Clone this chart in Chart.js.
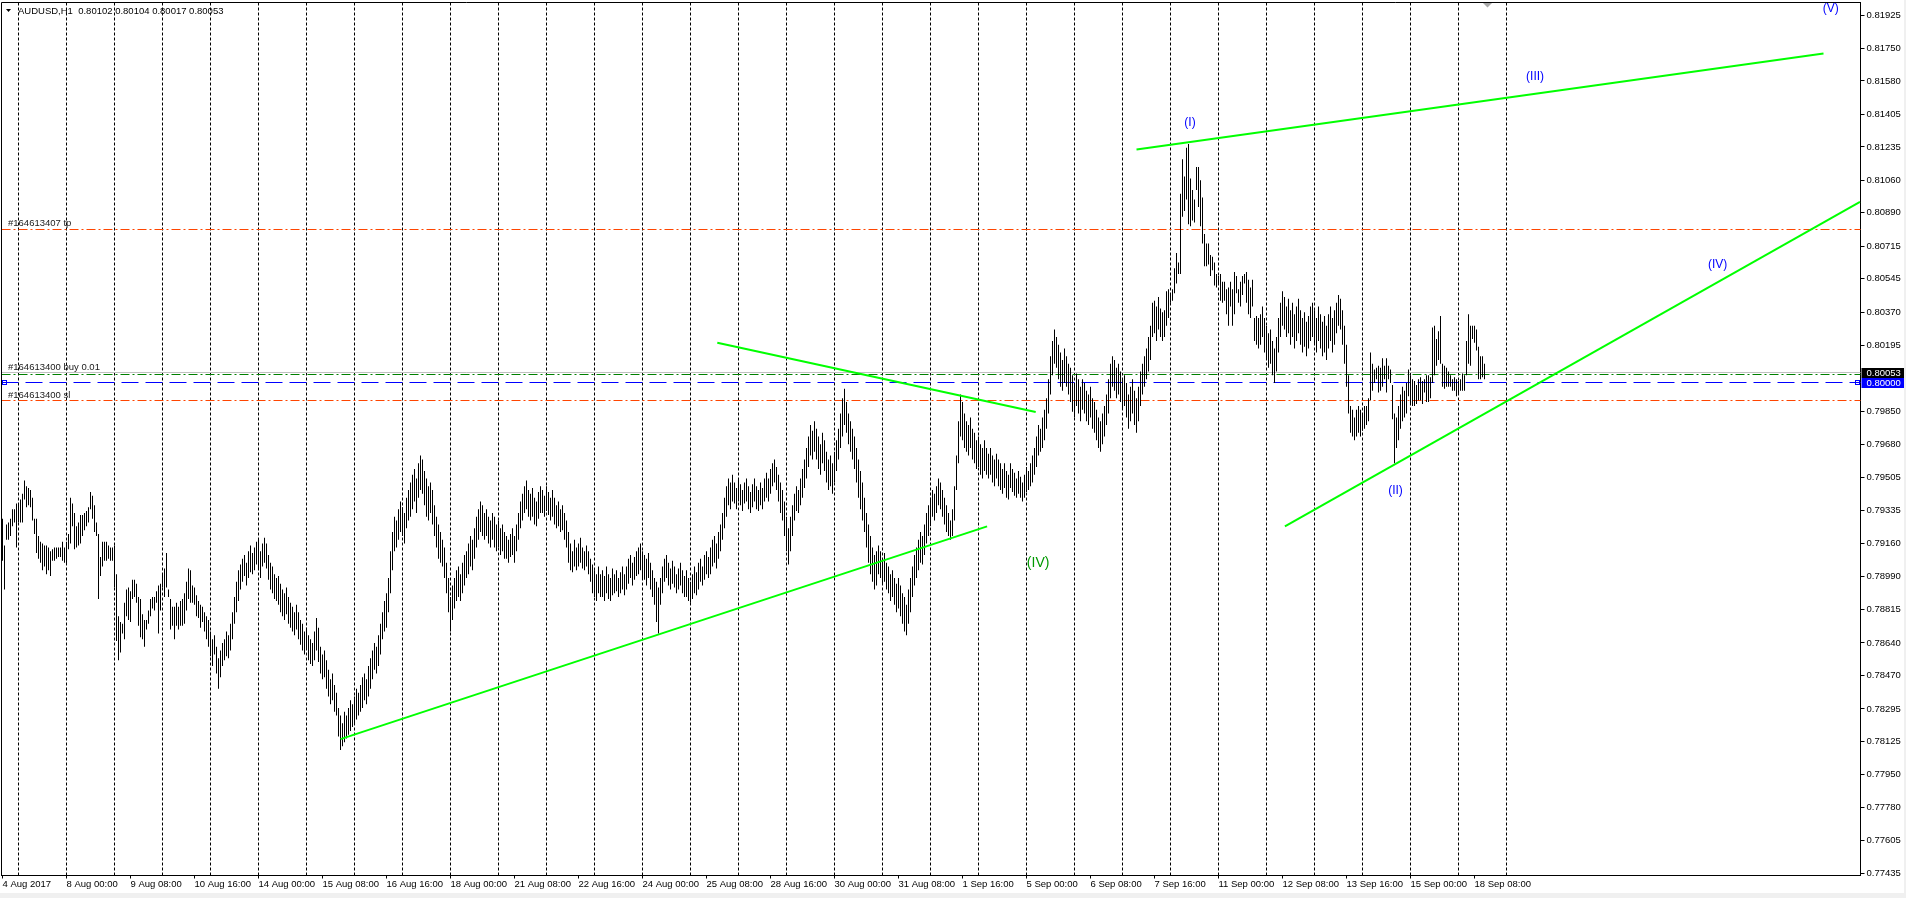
<!DOCTYPE html>
<html>
<head>
<meta charset="utf-8">
<script src="https://cdn.jsdelivr.net/npm/chart.js@4.4.1/dist/chart.umd.min.js"></script>
<style>
  html, body { margin: 0; padding: 0; background: #f0f0f0; overflow: hidden; }
  #chart { position: absolute; left: 0; top: 0; background: #fff; }
</style>
</head>
<body>
<canvas id="chart" width="1904" height="893"></canvas>
<script>
// AUDUSD H1, one bar per hour from 4 Aug 2017 16:00, values in pips (0.0001)
const highPips = [
  7929,7915,7926,7927,7929,7934,7934,7937,7937,7939,7942,7949,7946,7945,7944,7940,7929,7929,7920,7917,
  7916,7915,7915,7914,7912,7913,7914,7914,7914,7914,7917,7914,7917,7921,7940,7937,7932,7925,7927,7931,
  7931,7932,7933,7935,7943,7941,7936,7927,7921,7909,7917,7917,7917,7915,7914,7914,7915,7900,7878,7875,
  7874,7885,7892,7893,7891,7897,7897,7895,7888,7887,7879,7876,7876,7881,7887,7888,7888,7891,7894,7895,
  7900,7903,7911,7892,7887,7883,7883,7885,7883,7886,7887,7890,7896,7903,7902,7894,
  7893,7889,7886,7884,7883,7880,7878,7876,7870,7866,7868,7862,7856,7860,7864,7866,7870,7868,7874,7880,
  7888,7896,7902,7905,7908,7910,7906,7912,7915,7911,7914,7917,7918,7912,7916,7919,7916,7910,7906,7904,
  7900,7898,7899,7895,7892,7890,7893,7888,7885,7883,7880,7884,7880,7876,7874,7870,7872,7868,7866,7864,
  7870,7877,7872,7862,7858,7860,7855,7850,7845,7848,7842,7838,7830,7826,7822,7828,7826,7830,7834,7832,
  7836,7840,7838,7842,7846,7848,7845,7852,7856,7860,7864,7862,7868,7874,7880,7886,7890,7898,7912,7922,
  7930,7928,7934,7938,7935,7932,7940,7944,7948,7952,7955,7950,7958,7962,7960,7954,7950,7946,7948,7944,
  7936,7930,7926,7922,7918,7914,7906,7898,7888,7894,7898,7902,7904,7900,7906,7910,7912,7916,7920,7918,
  7924,7930,7934,7938,7936,7932,7934,7930,7928,7932,7930,7926,7928,7924,7926,7922,7920,7918,7921,7924,
  7920,7926,7932,7938,7942,7946,7949,7944,7942,7945,7940,7938,7943,7946,7944,7941,7946,7943,7940,7944,
  7940,7936,7938,7934,7936,7932,7928,7922,7916,7912,7918,7914,7916,7919,7914,7912,7915,7912,7908,7905,
  7902,7900,7904,7900,7902,7899,7904,7900,7898,7903,7900,7902,7898,7901,7904,7900,7904,7908,7910,7906,
  7909,7912,7914,7916,7912,7910,7908,7911,7906,7902,7898,7896,7893,7898,7904,7908,7910,7906,7903,7907,
  7904,7900,7903,7906,7902,7899,7902,7898,7896,7900,7904,7901,7906,7908,7904,7910,7912,7909,7914,7918,
  7920,7916,7922,7926,7932,7940,7946,7950,7948,7952,7948,7945,7950,7947,7944,7948,7950,7946,7943,7947,
  7950,7946,7944,7948,7945,7950,7953,7950,7955,7958,7960,7956,7952,7948,7944,7938,7930,7924,7930,7936,
  7942,7946,7944,7950,7955,7960,7966,7972,7978,7975,7980,7976,7972,7968,7974,7970,7964,7960,7962,7958,
  7964,7970,7976,7984,7992,7997,7990,7984,7980,7976,7972,7966,7960,7954,7948,7940,7932,7926,7920,7914,
  7910,7912,7915,7912,7908,7911,7906,7904,7900,7902,7898,7895,7898,7894,7890,7888,7884,7892,7898,7904,
  7910,7914,7918,7922,7920,7926,7932,7936,7940,7944,7942,7946,7950,7948,7944,7940,7936,7932,7928,7934,
  7946,7962,7980,7994,7990,7984,7980,7978,7982,7976,7974,7970,7972,7968,7966,7970,7966,7963,7966,7962,
  7960,7963,7960,7958,7955,7958,7954,7952,7958,7955,7953,7950,7954,7951,7948,7952,7956,7954,7958,7962,
  7966,7972,7978,7976,7982,7986,7992,8002,8014,8022,8028,8024,8020,8016,8012,8018,8014,8010,8008,8004,
  8000,8005,8002,7998,8002,8000,7996,7994,7998,7992,7990,7986,7982,7980,7984,7988,7994,8002,8010,8014,
  8012,8008,8010,8006,8002,8004,8000,7994,7998,8002,7996,7992,7998,8006,8010,8014,8018,8024,8030,8042,
  8043,8040,8045,8039,8037,8038,8048,8049,8047,8049,8060,8068,8063,8099,8117,8108,8123,8125,8107,8101,
  8096,8113,8113,8106,8097,8078,8073,8073,8067,8066,8063,8057,8056,8057,8053,8053,8049,8050,8053,8049,
  8058,8056,8049,8053,8056,8057,8058,8054,8050,8054,8034,8035,8034,8036,8040,8034,8030,8026,8028,8022,
  8018,8024,8034,8042,8048,8045,8040,8044,8038,8042,8036,8040,8044,8038,8034,8037,8032,8035,8040,8042,
  8038,8034,8040,8036,8032,8035,8030,8036,8040,8034,8038,8042,8046,8044,8038,8030,8020,8004,7988,7986,
  7982,7986,7988,7986,7984,7988,7988,7992,8016,8010,8007,8008,8009,8008,8013,8009,8013,8009,8007,7999,
  7984,7982,7988,7994,7998,7996,8000,8007,8004,8002,8001,7999,8002,8003,8001,8002,8004,8004,8003,8029,
  8030,8023,8027,8035,8010,8009,8008,8006,8004,8002,8003,8002,8001,8002,8005,8004,8022,8036,8030,8030,
  8030,8028,8019,8014,8014,8010
];
const lowPips = [
  7907,7892,7918,7918,7920,7925,7927,7914,7927,7927,7927,7939,7935,7936,7935,7928,7921,7911,7908,7906,
  7902,7904,7900,7902,7899,7907,7907,7908,7909,7909,7907,7906,7905,7913,7916,7925,7913,7914,7915,7916,
  7920,7923,7925,7927,7934,7929,7922,7920,7887,7899,7904,7907,7907,7908,7907,7907,7893,7865,7855,7859,
  7869,7866,7878,7876,7875,7887,7888,7885,7873,7867,7866,7862,7871,7874,7878,7882,7881,7885,7869,7881,
  7893,7888,7893,7888,7871,7873,7866,7873,7871,7873,7873,7874,7881,7887,7885,7885,
  7884,7878,7877,7872,7875,7870,7866,7862,7857,7852,7858,7848,7840,7846,7852,7855,7857,7856,7860,7866,
  7874,7880,7886,7892,7896,7899,7894,7898,7901,7900,7902,7905,7903,7898,7904,7906,7903,7897,7892,7890,
  7887,7886,7884,7880,7878,7876,7879,7874,7872,7870,7868,7871,7866,7863,7860,7858,7861,7855,7853,7852,
  7855,7860,7854,7848,7845,7846,7840,7836,7832,7834,7828,7826,7815,7808,7810,7812,7814,7816,7818,7820,
  7822,7824,7826,7828,7830,7834,7832,7836,7840,7845,7850,7848,7852,7858,7866,7870,7872,7880,7890,7902,
  7912,7914,7918,7922,7920,7916,7924,7928,7930,7934,7938,7932,7940,7944,7942,7936,7930,7928,7932,7926,
  7920,7914,7908,7906,7904,7898,7890,7880,7870,7876,7882,7886,7888,7886,7890,7894,7898,7900,7904,7902,
  7908,7914,7918,7922,7920,7918,7920,7916,7914,7918,7914,7912,7914,7910,7912,7908,7908,7906,7909,7910,
  7906,7912,7918,7924,7928,7932,7934,7930,7928,7930,7926,7925,7929,7932,7932,7930,7933,7931,7928,7930,
  7926,7924,7925,7922,7923,7918,7914,7906,7902,7901,7904,7902,7904,7906,7903,7902,7904,7900,7896,7890,
  7888,7886,7890,7888,7888,7886,7890,7887,7886,7889,7890,7891,7888,7890,7892,7889,7892,7895,7898,7894,
  7897,7899,7900,7902,7898,7897,7894,7898,7892,7888,7884,7875,7869,7884,7890,7896,7898,7894,7892,7895,
  7893,7890,7892,7894,7890,7888,7888,7886,7885,7887,7890,7889,7892,7896,7894,7897,7900,7898,7900,7904,
  7906,7903,7908,7912,7918,7924,7930,7936,7934,7938,7937,7934,7938,7936,7933,7937,7938,7934,7932,7935,
  7938,7934,7933,7936,7934,7938,7940,7938,7942,7946,7948,7944,7938,7932,7928,7920,7912,7905,7912,7920,
  7928,7933,7932,7936,7940,7945,7950,7956,7962,7960,7964,7960,7955,7952,7958,7954,7948,7944,7946,7942,
  7948,7954,7960,7966,7972,7978,7974,7968,7964,7960,7955,7948,7940,7934,7928,7922,7914,7906,7900,7896,
  7892,7894,7900,7898,7895,7896,7892,7890,7886,7888,7884,7880,7882,7878,7874,7870,7868,7874,7880,7888,
  7894,7898,7902,7906,7905,7910,7916,7920,7925,7930,7928,7932,7936,7934,7930,7926,7922,7920,7918,7920,
  7928,7944,7958,7972,7970,7966,7964,7962,7966,7960,7958,7955,7956,7952,7950,7954,7952,7950,7952,7948,
  7946,7950,7946,7944,7942,7945,7940,7939,7945,7943,7941,7940,7942,7940,7938,7940,7943,7944,7946,7948,
  7952,7956,7962,7964,7966,7970,7976,7984,7994,8004,8010,8008,8002,7998,7996,8000,7998,7994,7990,7985,
  7982,7988,7984,7980,7986,7984,7980,7978,7982,7976,7974,7970,7966,7964,7968,7972,7978,7984,7992,7998,
  7996,7992,7994,7990,7986,7988,7982,7976,7980,7984,7978,7974,7980,7988,7994,7998,8002,8006,8012,8024,
  8026,8022,8028,8024,8022,8024,8030,8034,8042,8043,8047,8052,8057,8057,8087,8090,8096,8083,8082,8085,
  8084,8101,8092,8082,8073,8061,8061,8062,8056,8059,8051,8050,8052,8043,8042,8043,8036,8030,8040,8030,
  8036,8047,8042,8040,8046,8052,8042,8036,8034,8040,8022,8020,8018,8020,8024,8016,8012,8008,8010,8004,
  8000,8006,8016,8024,8030,8028,8024,8026,8020,8024,8018,8022,8026,8020,8016,8019,8014,8018,8022,8024,
  8020,8016,8022,8018,8014,8016,8012,8018,8022,8016,8020,8026,8030,8028,8020,8010,7998,7984,7974,7972,
  7970,7972,7974,7972,7975,7976,7978,7980,7991,7996,8000,8002,7995,7996,7998,8002,7995,8002,8000,7981,
  7958,7966,7970,7976,7980,7982,7984,7993,7989,7988,7988,7989,7991,7991,7989,7995,7990,7990,7992,8000,
  8004,8009,8012,8010,7998,7997,7998,7998,7998,7996,7996,7993,7994,7996,7996,7996,8004,8010,8009,8023,
  8021,8017,8002,8002,8003,8002
];

// one time label every 32 bars
const timeLabels = [
  "4 Aug 2017", "8 Aug 00:00", "9 Aug 08:00", "10 Aug 16:00", "14 Aug 00:00", "15 Aug 08:00",
  "16 Aug 16:00", "18 Aug 00:00", "21 Aug 08:00", "22 Aug 16:00", "24 Aug 00:00", "25 Aug 08:00",
  "28 Aug 16:00", "30 Aug 00:00", "31 Aug 08:00", "1 Sep 16:00", "5 Sep 00:00", "6 Sep 08:00",
  "7 Sep 16:00", "11 Sep 00:00", "12 Sep 08:00", "13 Sep 16:00", "15 Sep 00:00", "18 Sep 08:00"
];
const priceTicks = [
  0.81925, 0.81750, 0.81580, 0.81405, 0.81235, 0.81060, 0.80890, 0.80715, 0.80545, 0.80370,
  0.80195, 0.79850, 0.79680, 0.79505, 0.79335, 0.79160, 0.78990, 0.78815, 0.78640, 0.78470,
  0.78295, 0.78125, 0.77950, 0.77780, 0.77605, 0.77435
];

// order / price levels
const tpPrice = 0.80804;
const bidPrice = 0.80053;
const buyPrice = 0.80045;
const openPrice = 0.80000;
const slPrice = 0.79906;

// trend lines: [barFrom, priceFrom, barTo, priceTo]
const trendLines = [
  [169, 0.78137, 492.3, 0.79250],
  [357.4, 0.80210, 516.6, 0.79848],
  [567.0, 0.81221, 910.5, 0.81724],
  [641.2, 0.79250, 928.75, 0.80948]
];
// wave labels: [text, bar, price, green?]
const waveLabels = [
  ["(I)", 593.75, 0.81362, false],
  ["(II)", 696.5, 0.79435, false],
  ["(III)", 766.3, 0.81601, false],
  ["(IV)", 857.6, 0.80617, false],
  ["(V)", 914.1, 0.81959, false],
  ["(IV)", 517.8, 0.79058, true]
];

const FONT = "Liberation Sans";
Chart.defaults.font.family = FONT;

const bars = highPips.map((h, i) => ({ x: i, y: [lowPips[i] / 10000, h / 10000] }));

const gridIdx = [];
for (let k = 0; k < 32; k++) gridIdx.push(8 + 24 * k);
const labelIdx = timeLabels.map((_, k) => k * 32);
const xTicks = [...new Set([...gridIdx, ...labelIdx])].sort((a, b) => a - b);

function hLine(ctx, area, py, color, dash) {
  const yy = Math.round(py - 0.5) + 0.5;
  ctx.save();
  ctx.strokeStyle = color;
  ctx.lineWidth = 1;
  ctx.setLineDash(dash);
  ctx.beginPath();
  ctx.moveTo(area.left, yy);
  ctx.lineTo(area.right, yy);
  ctx.stroke();
  ctx.restore();
}

const overlay = {
  id: "overlay",
  beforeDatasetsDraw(chart) {
    const { ctx, chartArea: a, scales: { y } } = chart;
    hLine(ctx, a, y.getPixelForValue(tpPrice), "#ff4500", [9, 3, 2, 3]);
    hLine(ctx, a, y.getPixelForValue(bidPrice), "#c0c0c0", []);
    hLine(ctx, a, y.getPixelForValue(buyPrice), "#008000", [9, 3, 2, 3]);
    hLine(ctx, a, y.getPixelForValue(openPrice), "#0000ff", [17, 7]);
    hLine(ctx, a, y.getPixelForValue(slPrice), "#ff4500", [9, 3, 2, 3]);

    ctx.save();
    ctx.font = "9.5px " + FONT;
    ctx.fillStyle = "#202020";
    ctx.textBaseline = "middle";
    ctx.fillText("#164613407 tp", 8, y.getPixelForValue(tpPrice) - 6);
    ctx.fillText("#164613400 buy 0.01", 8, y.getPixelForValue(buyPrice) - 7);
    ctx.fillText("#164613400 sl", 8, y.getPixelForValue(slPrice) - 6);
    ctx.restore();
  },
  afterDatasetsDraw(chart) {
    const { ctx, chartArea: a, scales: { x, y } } = chart;
    ctx.save();
    ctx.beginPath();
    ctx.rect(a.left, a.top, a.right - a.left, a.bottom - a.top);
    ctx.clip();
    ctx.strokeStyle = "#00ff00";
    ctx.lineWidth = 2;
    trendLines.forEach(t => {
      ctx.beginPath();
      ctx.moveTo(x.getPixelForValue(t[0]), y.getPixelForValue(t[1]));
      ctx.lineTo(x.getPixelForValue(t[2]), y.getPixelForValue(t[3]));
      ctx.stroke();
    });
    ctx.textAlign = "center";
    ctx.textBaseline = "middle";
    waveLabels.forEach(w => {
      ctx.font = (w[3] ? "14px " : "12px ") + FONT;
      ctx.fillStyle = w[3] ? "#009900" : "#0000ff";
      ctx.fillText(w[0], x.getPixelForValue(w[1]), y.getPixelForValue(w[2]));
    });
    // order markers
    const po = Math.round(y.getPixelForValue(openPrice));
    ctx.strokeStyle = "#0000ff";
    ctx.lineWidth = 1;
    ctx.strokeRect(a.left + 1, po - 2.5, 4, 4);
    ctx.strokeRect(a.right - 5, po - 2.5, 4, 4);
    ctx.restore();
  },
  afterDraw(chart) {
    const { ctx, chartArea: a, scales: { x, y } } = chart;
    ctx.save();
    // frame top / left
    ctx.strokeStyle = "#000";
    ctx.lineWidth = 1;
    ctx.beginPath();
    ctx.moveTo(a.left, a.bottom);
    ctx.lineTo(a.left, a.top);
    ctx.lineTo(a.right, a.top);
    ctx.stroke();

    // price boxes on the axis
    ctx.font = "9.5px " + FONT;
    ctx.textBaseline = "middle";
    const pb = Math.round(y.getPixelForValue(bidPrice));
    const po = Math.round(y.getPixelForValue(openPrice));
    ctx.fillStyle = "#000";
    ctx.fillRect(a.right + 1, pb - 5, 43, 10);
    ctx.fillStyle = "#fff";
    ctx.fillText(bidPrice.toFixed(5), a.right + 6, pb);
    ctx.fillStyle = "#0000ff";
    ctx.fillRect(a.right + 1, po - 5, 43, 10);
    ctx.fillStyle = "#fff";
    ctx.fillText(openPrice.toFixed(5), a.right + 6, po);

    // symbol header
    ctx.fillStyle = "#000";
    ctx.beginPath();
    ctx.moveTo(6, 9); ctx.lineTo(11, 9); ctx.lineTo(8.5, 12); ctx.closePath();
    ctx.fill();
    ctx.fillText("AUDUSD,H1  0.80102 0.80104 0.80017 0.80053", 18, 11);

    // chart shift marker
    const sx = Math.round(x.getPixelForValue(742)) + 0.5;
    ctx.fillStyle = "#a8a8a8";
    ctx.beginPath();
    ctx.moveTo(sx - 4.5, a.top + 0.5); ctx.lineTo(sx + 4.5, a.top + 0.5); ctx.lineTo(sx, a.top + 5);
    ctx.closePath();
    ctx.fill();
    ctx.restore();
  }
};

new Chart(document.getElementById("chart"), {
  type: "bar",
  data: {
    datasets: [{
      data: bars,
      backgroundColor: "#000",
      borderWidth: 0,
      barThickness: 1,
      inflateAmount: 0
    }]
  },
  options: {
    responsive: false,
    animation: false,
    devicePixelRatio: 1,
    events: [],
    layout: { padding: { left: 1.5, top: 2.5, right: 0, bottom: 0 } },
    plugins: { legend: { display: false }, tooltip: { enabled: false } },
    scales: {
      x: {
        type: "linear",
        position: "bottom",
        offset: false,
        min: -0.5,
        max: 929,
        afterBuildTicks: s => { s.ticks = xTicks.map(v => ({ value: v })); },
        afterFit: s => { s.height = 17.5; s.paddingLeft = 0; s.paddingRight = 0; },
        grid: {
          offset: false,
          color: c => gridIdx.includes(c.tick && c.tick.value) ? "#000" : "rgba(0,0,0,0)",
          tickColor: c => labelIdx.includes(c.tick && c.tick.value) ? "#000" : "rgba(0,0,0,0)",
          tickLength: 3,
          lineWidth: 1
        },
        border: { display: true, color: "#000", width: 1, dash: [3, 2] },
        ticks: {
          autoSkip: false,
          maxRotation: 0,
          align: "start",
          padding: 0,
          color: "#000",
          font: { size: 9.5 },
          callback: v => (v % 32 === 0 ? timeLabels[v / 32] : "")
        }
      },
      y: {
        type: "linear",
        position: "right",
        min: 0.774235,
        max: 0.819904,
        afterBuildTicks: s => { s.ticks = priceTicks.map(v => ({ value: v })); },
        afterFit: s => { s.width = 43.5; s.paddingTop = 0; s.paddingBottom = 0; },
        grid: { drawOnChartArea: false, tickLength: 4, tickColor: "#000" },
        border: { display: true, color: "#000", width: 1 },
        ticks: {
          autoSkip: false,
          padding: 2,
          color: "#000",
          font: { size: 9.5 },
          callback: v => v.toFixed(5)
        }
      }
    }
  },
  plugins: [overlay]
});
</script>
</body>
</html>
